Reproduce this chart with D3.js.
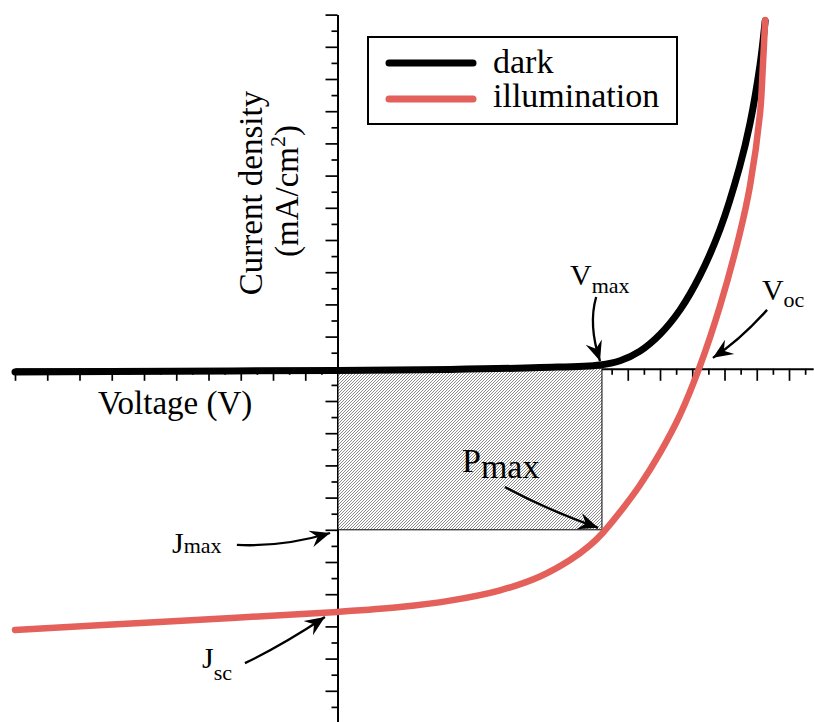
<!DOCTYPE html>
<html><head><meta charset="utf-8">
<script src="https://cdn.jsdelivr.net/npm/d3@7"></script>
<style>
html,body{margin:0;padding:0;background:#fff}
svg{display:block}
svg text{font-family:"Liberation Serif","Times New Roman",serif !important;fill:#000}
</style>
</head><body>
<svg id="c" width="814" height="722"></svg>
<script>
// ---- data ----
const darkX  = [-10, -5.04, 0, 3.49, 6.28, 8.14, 8.76, 9.38, 10.0, 10.62, 11.24, 11.86, 12.47, 12.79, 13.10, 13.26];
const darkY  = [-0.10, -0.075, -0.05, -0.02, 0.04, 0.12, 0.25, 0.55, 1.07, 1.83, 2.90, 4.33, 6.28, 7.62, 9.43, 10.80];
const illumX = [-10, -5.53, 0, 1.94, 3.49, 5.04, 6.28, 7.21, 7.83, 8.23, 8.76, 9.38, 10.0, 10.62, 11.24, 11.86, 12.47, 12.79, 13.10, 13.19, 13.26];
const illumY = [-8.11, -7.86, -7.55, -7.40, -7.20, -6.88, -6.45, -5.94, -5.48, -5.09, -4.45, -3.61, -2.61, -1.43, 0.09, 1.95, 4.19, 5.68, 7.92, 9.41, 10.83];
const seriesNames  = ["dark", "illumination"];
const seriesColors = ["#000000", "#e4605b"];
const Vmax = 8.2, Jmax = -5.0;
const xMajor = d3.range(-10, 14.75, 1);
const xMinor = d3.range(-9.5, 14.75, 1);
const yMajor = d3.range(-11, 11.01, 1);
const yMinor = d3.range(-10.5, 11, 1);
const xLabel = "Voltage (V)";
const yLabel1 = "Current density";
const yLabel2 = ["(mA/cm", "2", ")"];
// annotation arrows (data units): from, control, to
const arrows = [
  {from:[8.02, 2.23],  ctrl:[7.77, 1.36],  to:[8.14, 0.24]},   // Vmax
  {from:[13.32, 1.83], ctrl:[12.48, 0.89], to:[11.64, 0.34]},  // Voc
  {from:[-3.12, -5.47],ctrl:[-1.69, -5.54],to:[-0.23, -5.10]}, // Jmax
  {from:[-2.87, -9.14],ctrl:[-1.75, -8.61],to:[-0.39, -7.71]}, // Jsc
  {from:[5.19, -3.67], ctrl:[6.43, -4.35], to:[8.08, -4.94]}   // Pmax
];
const labels = [
  {at:[7.21, 2.60],  main:"V", sub:"max", fs:30, sfs:22, dy:8},
  {at:[13.16, 2.14], main:"V", sub:"oc",  fs:30, sfs:22, dy:7},
  {at:[-5.13, -5.72],main:"J", sub:"max", fs:30, sfs:22, dy:0},
  {at:[-4.2, -9.3],  main:"J", sub:"sc",  fs:30, sfs:22, dy:12},
  {at:[3.86, -3.21], main:"P", sub:"max", fs:34, sfs:34, dy:6}
];

// ---- chart ----
const FONT = "'Liberation Serif','Times New Roman',serif";
const svg = d3.select("#c");
const x = d3.scaleLinear().domain([-10, 14.75]).range([15, 813.2]);
const y = d3.scaleLinear().domain([-11, 11]).range([723, 14.6]);
const x0 = x(0), y0 = y(0);

const defs = svg.append("defs");
const pat = defs.append("pattern").attr("id","hatch").attr("patternUnits","userSpaceOnUse")
  .attr("width",3).attr("height",3);
pat.append("rect").attr("width",3).attr("height",3).attr("fill","#fff");
pat.append("path").attr("d","M-1,1 l2,-2 M0,3 l3,-3 M2,4 l2,-2").attr("stroke","#6e6e6e").attr("stroke-width",0.8);
defs.append("marker").attr("id","head").attr("markerUnits","userSpaceOnUse")
  .attr("viewBox","-22 -10 24 20").attr("refX",0).attr("refY",0)
  .attr("markerWidth",24).attr("markerHeight",20).attr("orient","auto")
  .append("path").attr("d","M0,0 L-20,-8.5 L-13,0 L-20,8.5 Z").attr("fill","#000");

// axes
const gx = svg.append("g").attr("transform",`translate(0,${y0})`);
gx.call(d3.axisBottom(x).tickValues(xMajor).tickSize(12).tickSizeOuter(0).tickFormat(""));
const gx2 = svg.append("g").attr("transform",`translate(0,${y0})`);
gx2.call(d3.axisBottom(x).tickValues(xMinor).tickSize(6).tickSizeOuter(0).tickFormat(""));
gx2.select(".domain").remove();
const gy = svg.append("g").attr("transform",`translate(${x0},0)`);
gy.call(d3.axisLeft(y).tickValues(yMajor).tickSize(12).tickSizeOuter(0).tickFormat(""));
const gy2 = svg.append("g").attr("transform",`translate(${x0},0)`);
gy2.call(d3.axisLeft(y).tickValues(yMinor).tickSize(6).tickSizeOuter(0).tickFormat(""));
gy2.select(".domain").remove();
svg.selectAll(".domain").attr("stroke","#000").attr("stroke-width",2);
svg.selectAll(".tick line").attr("stroke","#000").attr("stroke-width",1.7);

// Pmax rectangle
svg.append("rect").attr("x",x(0)+1).attr("y",y(0)).attr("width",x(Vmax)-x(0)-1).attr("height",y(Jmax)-y(0))
  .attr("fill","url(#hatch)");
svg.append("path").attr("d",`M${x(Vmax)},${y(0)} V${y(Jmax)} H${x(0)}`)
  .attr("fill","none").attr("stroke","#000").attr("stroke-width",1);

// curves
const line = d3.line().x(d=>x(d[0])).y(d=>y(d[1])).curve(d3.curveCatmullRom.alpha(0.5));
const series = [d3.zip(darkX, darkY), d3.zip(illumX, illumY)];
series.forEach((s,i)=>{
  svg.append("path").datum(s).attr("d",line).attr("fill","none")
    .attr("stroke",seriesColors[i]).attr("stroke-width",i===0?7:6.5)
    .attr("stroke-linecap","round").attr("stroke-linejoin","round");
});

// axis labels
svg.append("text").attr("x",98).attr("y",414).attr("font-size",33).attr("font-family",FONT).text(xLabel);
svg.append("text").attr("transform","translate(262,193) rotate(-90)").attr("text-anchor","middle")
  .attr("font-size",33).attr("font-family",FONT).text(yLabel1);
const t2 = svg.append("text").attr("transform","translate(298,191) rotate(-90)").attr("text-anchor","middle")
  .attr("font-size",33).attr("font-family",FONT);
t2.append("tspan").text(yLabel2[0]);
t2.append("tspan").attr("font-size",22).attr("dy",-13).text(yLabel2[1]);
t2.append("tspan").attr("dy",13).text(yLabel2[2]);

// legend
const lg = svg.append("g");
lg.append("rect").attr("x",368).attr("y",37).attr("width",309).attr("height",87)
  .attr("fill","#fff").attr("stroke","#000").attr("stroke-width",2);
seriesNames.forEach((n,i)=>{
  lg.append("line").attr("x1",389).attr("x2",473).attr("y1",63+36*i).attr("y2",63+36*i)
    .attr("stroke",seriesColors[i]).attr("stroke-width",7).attr("stroke-linecap","round");
  lg.append("text").attr("x",493).attr("y",73+34*i).attr("font-size",34).attr("font-family",FONT).text(n);
});

// annotation arrows
arrows.forEach(a=>{
  svg.append("path")
    .attr("d",`M${x(a.from[0])},${y(a.from[1])} Q${x(a.ctrl[0])},${y(a.ctrl[1])} ${x(a.to[0])},${y(a.to[1])}`)
    .attr("fill","none").attr("stroke","#000").attr("stroke-width",2.3).attr("marker-end","url(#head)");
});
labels.forEach(l=>{
  const t = svg.append("text").attr("x",x(l.at[0])).attr("y",y(l.at[1])).attr("font-size",l.fs).attr("font-family",FONT);
  t.append("tspan").text(l.main);
  t.append("tspan").attr("font-size",l.sfs).attr("dy",l.dy).text(l.sub);
});
</script>
</body></html>
